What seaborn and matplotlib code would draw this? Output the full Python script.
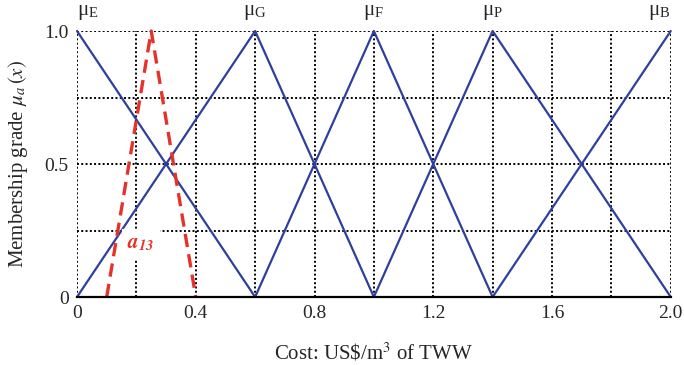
import matplotlib
matplotlib.use("Agg")
import matplotlib.pyplot as plt
from matplotlib.ticker import MultipleLocator
import seaborn as sns
import pandas as pd

# membership functions (triangles), x breakpoints and grades
labels = ["E", "G", "F", "P", "B"]
mf_x = [[0, 0.6], [0, 0.6, 1.0], [0.6, 1.0, 1.4], [1.0, 1.4, 2.0], [1.4, 2.0]]
mf_y = [[1, 0], [0, 1, 0], [0, 1, 0], [0, 1, 0], [0, 1]]
peaks = [0, 0.6, 1.0, 1.4, 2.0]

# alternative a13 (dashed red triangle)
a13_x = [0.1, 0.25, 0.4]
a13_y = [0, 1, 0]

xticks = [0, 0.4, 0.8, 1.2, 1.6, 2.0]
xtick_labels = ["0", "0.4", "0.8", "1.2", "1.6", "2.0"]
yticks = [0, 0.5, 1.0]
ytick_labels = ["0", "0.5", "1.0"]

sns.set_style("white")
plt.rcParams["font.family"] = ["Liberation Serif", "DejaVu Serif"]
plt.rcParams["mathtext.fontset"] = "stix"

blue = "#2e3f9c"
red = "#e5322b"

rows = []
for lab, xs, ys in zip(labels, mf_x, mf_y):
    for x, y in zip(xs, ys):
        rows.append({"set": lab, "x": x, "y": y})
df = pd.DataFrame(rows)
df_a = pd.DataFrame({"x": a13_x, "y": a13_y})

fig = plt.figure(figsize=(6.84, 3.65), dpi=100)
ax = fig.add_axes([0.1126, 0.1863, 0.868, 0.7287])

sns.lineplot(data=df, x="x", y="y", units="set", estimator=None, sort=False,
             color=blue, lw=1.6, ax=ax, clip_on=False, zorder=3)
sns.lineplot(data=df_a, x="x", y="y", estimator=None, sort=False,
             color=red, lw=2.4, ax=ax, clip_on=False, zorder=4,
             dashes=False, linestyle=(0, (4, 2.2)))

ax.set_xlim(0, 2.0)
ax.set_ylim(0, 1.0)
ax.set_xticks(xticks)
ax.set_xticklabels(xtick_labels)
ax.set_yticks(yticks)
ax.set_yticklabels(ytick_labels)
ax.xaxis.set_minor_locator(MultipleLocator(0.2))
ax.yaxis.set_minor_locator(MultipleLocator(0.25))
ax.grid(which="both", color="black", linestyle=(0, (1, 1.2)), lw=1.4)
ax.set_axisbelow(True)
ax.tick_params(which="both", length=0, labelsize=14, pad=6)

for s in ["top", "right", "left"]:
    ax.spines[s].set_visible(False)
ax.spines["bottom"].set_color("black")
ax.spines["bottom"].set_linewidth(1.6)
ax.spines["bottom"].set_zorder(5)

for lab, p in zip(labels, peaks):
    ax.text(p, 1.035, r"$\mathregular{\mu}_{\mathregular{%s}}$" % lab,
            fontsize=15, ha="center" if 0 < p < 2 else ("left" if p == 0 else "right"),
            va="bottom", clip_on=False)

ax.text(0.215, 0.2, r"$\mathbfit{a}_{\mathbfit{13}}$", color=red, fontsize=15,
        ha="center", va="center", zorder=6,
        bbox=dict(facecolor="white", edgecolor="none", pad=4))

ax.set_xlabel(r"Cost: US\$/m$^3$ of TWW", fontsize=15, labelpad=14)
ax.set_ylabel(r"Membership grade $\mu_a\,(x)$", fontsize=15, labelpad=10)

fig.savefig("out.png", dpi=100)
